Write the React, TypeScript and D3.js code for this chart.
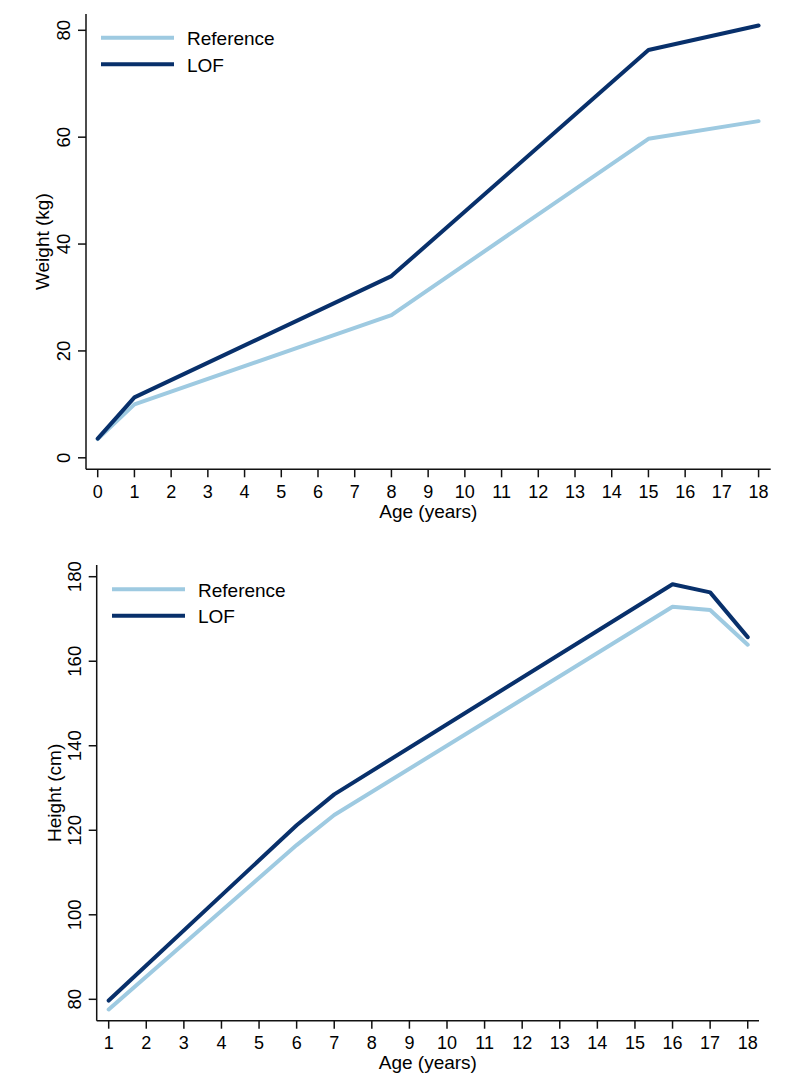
import React from "react";
import * as d3 from "d3";

const seriesNames = ["Reference", "LOF"];
const seriesColors = ["#9ecae1", "#08306b"];

const weightAges = [0, 1, 8, 15, 18];
const weightRef = [3.5, 10, 26.7, 59.7, 63];
const weightLOF = [3.6, 11.3, 34, 76.3, 80.9];
const weightYTicks = [0, 20, 40, 60, 80];
const weightXTicks = d3.range(0, 19);

const heightAges = [1, 6, 7, 16, 17, 18];
const heightRef = [77.6, 116.5, 123.6, 172.9, 172.1, 163.9];
const heightLOF = [79.7, 121.2, 128.5, 178.2, 176.3, 165.7];
const heightYTicks = [80, 100, 120, 140, 160, 180];
const heightXTicks = d3.range(1, 19);

const FONT = "'Liberation Sans', Arial, sans-serif";

type PanelProps = {
  ages: number[];
  series: number[][];
  xDomain: [number, number];
  yDomain: [number, number];
  left: number;
  right: number;
  top: number;
  bottom: number;
  xTicks: number[];
  yTicks: number[];
  yTitle: string;
  yTitleX: number;
  yTickLabelX: number;
  xTickLabelY: number;
  xTitleY: number;
  legendX: number;
  legendY: number;
};

function Panel(p: PanelProps) {
  const x = d3.scaleLinear().domain(p.xDomain).range([p.left, p.right]);
  const y = d3.scaleLinear().domain(p.yDomain).range([p.bottom, p.top]);
  const line = d3
    .line<[number, number]>()
    .x((d) => x(d[0]))
    .y((d) => y(d[1]));
  const axisColor = "#111";
  return (
    <g>
      {p.series.map((vals, i) => (
        <path
          key={i}
          d={line(p.ages.map((a, j) => [a, vals[j]] as [number, number])) || ""}
          fill="none"
          stroke={seriesColors[i]}
          strokeWidth={4}
          strokeLinejoin="round"
          strokeLinecap="round"
        />
      ))}
      <line x1={p.left} x2={p.left} y1={p.top} y2={p.bottom} stroke={axisColor} strokeWidth={1.5} />
      <line x1={p.left} x2={p.right} y1={p.bottom} y2={p.bottom} stroke={axisColor} strokeWidth={1.5} />
      {p.yTicks.map((t) => (
        <g key={"y" + t}>
          <line x1={p.left - 8} x2={p.left} y1={y(t)} y2={y(t)} stroke={axisColor} strokeWidth={1.5} />
          <text
            transform={`translate(${p.yTickLabelX},${y(t)}) rotate(-90)`}
            textAnchor="middle"
            dominantBaseline="central"
            fontSize={18.5}
            fontFamily={FONT}
            fill="#000"
          >
            {t}
          </text>
        </g>
      ))}
      {p.xTicks.map((t) => (
        <g key={"x" + t}>
          <line x1={x(t)} x2={x(t)} y1={p.bottom} y2={p.bottom + 8} stroke={axisColor} strokeWidth={1.5} />
          <text
            x={x(t)}
            y={p.xTickLabelY}
            textAnchor="middle"
            dominantBaseline="central"
            fontSize={18}
            fontFamily={FONT}
            fill="#000"
          >
            {t}
          </text>
        </g>
      ))}
      <text
        x={(p.left + p.right) / 2}
        y={p.xTitleY}
        textAnchor="middle"
        dominantBaseline="central"
        fontSize={19}
        fontFamily={FONT}
      >
        Age (years)
      </text>
      <text
        transform={`translate(${p.yTitleX},${(p.top + p.bottom) / 2}) rotate(-90)`}
        textAnchor="middle"
        dominantBaseline="central"
        fontSize={19}
        fontFamily={FONT}
      >
        {p.yTitle}
      </text>
      {seriesNames.map((n, i) => (
        <g key={n}>
          <line
            x1={p.legendX}
            x2={p.legendX + 73}
            y1={p.legendY + i * 26.5}
            y2={p.legendY + i * 26.5}
            stroke={seriesColors[i]}
            strokeWidth={4}
          />
          <text
            x={p.legendX + 86}
            y={p.legendY + i * 26.5 + 1}
            dominantBaseline="central"
            fontSize={19}
            fontFamily={FONT}
          >
            {n}
          </text>
        </g>
      ))}
    </g>
  );
}

export default function App() {
  return (
    <svg
      width={800}
      height={1086}
      style={{ position: "absolute", left: 0, top: 0, background: "#fff" }}
    >
      <rect width={800} height={1086} fill="#fff" />
      <Panel
        ages={weightAges}
        series={[weightRef, weightLOF]}
        xDomain={[-0.319, 18.33]}
        yDomain={[-2.15, 83.05]}
        left={86}
        right={770.7}
        top={14}
        bottom={469.3}
        xTicks={weightXTicks}
        yTicks={weightYTicks}
        yTitle="Weight (kg)"
        yTitleX={42}
        yTickLabelX={63}
        xTickLabelY={491.5}
        xTitleY={511}
        legendX={101}
        legendY={37.7}
      />
      <Panel
        ages={heightAges}
        series={[heightRef, heightLOF]}
        xDomain={[0.681, 18.3]}
        yDomain={[74.94, 182.77]}
        left={96.7}
        right={759}
        top={565}
        bottom={1020.7}
        xTicks={heightXTicks}
        yTicks={heightYTicks}
        yTitle="Height (cm)"
        yTitleX={54}
        yTickLabelX={74.5}
        xTickLabelY={1043}
        xTitleY={1062.5}
        legendX={112}
        legendY={589.3}
      />
    </svg>
  );
}
